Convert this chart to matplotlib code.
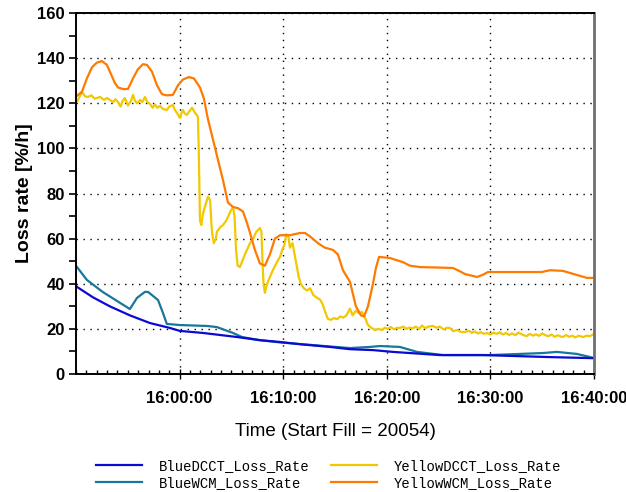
import numpy as np
import matplotlib
matplotlib.use("Agg")
import matplotlib.pyplot as plt
import matplotlib.dates as mdates
from matplotlib.ticker import MultipleLocator

# minutes after 15:50:00 and loss rates in %/h
blue_dcct_t = [0.1, 1.64, 3.28, 5.21, 7.14, 9.07, 10.04, 12.26, 13.9, 15.54, 17.76,
               19.69, 21.62, 24.52, 26.45, 28.67, 30.6, 35.14, 39.29, 45.75, 50.1]
blue_dcct = [38.6, 34, 30, 26, 22.6, 20.4, 19.1, 18.2, 17.3, 16.4, 15,
             14.2, 13.2, 12, 11, 10.6, 9.8, 8.4, 8.4, 7.5, 7]

blue_wcm_t = [0.1, 1.06, 2.61, 5.21, 5.89, 6.66, 6.95, 7.92, 8.4, 8.78, 10.04, 12.64,
              13.61, 15.15, 16.02, 17.76, 19.69, 21.62, 24.52, 26.45, 28.38, 29.34,
              31.27, 32.92, 35.42, 40.0, 45.08, 46.43, 48.36, 50.1]
blue_wcm = [47.4, 41.7, 36.3, 28.8, 33.7, 36.4, 36.4, 32.8, 27, 22.2, 21.7, 21.3,
            20.8, 18.2, 16.4, 15, 14, 13.3, 12.2, 11.5, 12, 12.4,
            12, 9.8, 8.4, 8.4, 9.3, 9.8, 8.9, 7]

yellow_dcct_t = [0.1, 0.35, 0.58, 0.9, 1.16, 1.5, 1.8, 2.32, 2.7, 3.0, 3.28, 3.6, 3.8,
                 4.05, 4.3, 4.5, 4.73, 5.02, 5.3, 5.5, 5.7, 5.89, 6.2, 6.4, 6.66, 6.9,
                 7.14, 7.4, 7.6, 7.85, 8.1, 8.4, 8.78, 9.0, 9.36, 9.55, 9.75, 10.04,
                 10.2, 10.33, 10.5, 10.71, 10.95, 11.2, 11.45, 11.7, 11.78, 11.85,
                 11.92, 11.97, 12.1, 12.26, 12.5, 12.74, 12.95, 13.05, 13.15, 13.3,
                 13.5, 13.61, 13.9, 14.19, 14.5, 14.67, 14.9, 15.15, 15.3, 15.45, 15.6,
                 15.83, 16.02, 16.3, 16.6, 16.8, 17.1, 17.4, 17.76, 17.9, 18.0, 18.1,
                 18.24, 18.45, 18.73, 19.0, 19.5, 19.7, 19.9, 20.1, 20.3, 20.5, 20.66,
                 20.9, 21.1, 21.3, 21.5, 21.7, 22.0, 22.3, 22.6, 22.9, 23.2, 23.55,
                 23.8, 24.03, 24.3, 24.6, 24.9, 25.2, 25.5, 25.8, 26.1, 26.45, 26.7,
                 27.0, 27.3, 27.61, 27.9, 28.19, 28.5, 28.86, 29.2, 29.5, 29.8, 30.1,
                 30.4, 30.7, 31.0, 31.27, 31.6, 31.9, 32.2, 32.5, 32.8, 33.1, 33.4,
                 33.7, 34.0, 34.46, 34.8, 35.1, 35.5, 35.8, 36.1, 36.4, 36.8, 37.2,
                 37.55, 37.9, 38.2, 38.5, 38.8, 39.1, 39.4, 39.67, 40.0, 40.3, 40.6,
                 40.9, 41.2, 41.5, 41.8, 42.1, 42.4, 42.7, 43.15, 43.5, 43.8, 44.1,
                 44.4, 44.7, 45.0, 45.3, 45.6, 45.9, 46.2, 46.5, 46.8, 47.0, 47.3,
                 47.6, 47.9, 48.2, 48.5, 48.94, 49.3, 49.6, 49.9, 50.1]
yellow_dcct = [120.6, 123, 125, 123, 122.8, 123.5, 122, 122.8, 121.5, 122.3, 121.5,
               120.5, 121.8, 120.6, 118.5, 121, 122.3, 119, 121, 123.7, 121, 120,
               121.5, 120.5, 122.8, 120.5, 119.7, 118, 119.5, 118, 118.8, 117.5, 117,
               118.5, 119.2, 117, 115.7, 113.5, 116, 117, 115.5, 114.8, 116.5, 118,
               116, 114.5, 114, 99, 80, 68, 66, 71, 75, 78.5, 77, 68, 62, 58, 60, 63,
               65, 66, 68, 69.6, 72, 74, 70, 55, 48, 47.4, 49.6, 53, 56, 58, 60, 63,
               64.7, 63, 50, 40, 36, 40, 43, 46, 50.5, 52, 55, 57, 62, 61, 56, 58, 53,
               48, 43, 40, 38, 37, 38, 35, 34, 33, 31, 28, 24.5, 24, 24.8, 24.3, 25.5,
               25, 26, 29, 26, 28, 27, 27.5, 25, 21.7, 20.5, 19.5, 20, 19.5, 20.5, 20,
               20.8, 19.8, 20.5, 20.4, 21, 20, 20.6, 20.2, 21, 20, 21.5, 20.3, 21,
               21.3, 20.5, 21, 19.8, 20.5, 20.4, 19, 19.5, 18.6, 18.6, 19.2, 18.3,
               18.8, 18, 18.5, 17.8, 18.2, 17.5, 18.3, 17.8, 18.5, 17.5, 18.2, 17.3,
               18, 17.2, 18.4, 17.3, 16.8, 17.8, 17, 17.6, 16.9, 18, 17.2, 16.8, 17.5,
               16.5, 17.2, 16.6, 16.4, 17.3, 16.5, 17, 16.2, 17, 16.4, 17, 16.8, 17.5,
               17.7]

yellow_wcm_t = [0.0, 0.58, 1.06, 1.55, 2.03, 2.51, 2.99, 3.38, 3.76, 4.05, 4.54, 5.02,
                5.5, 5.98, 6.47, 6.85, 7.34, 7.82, 8.3, 8.78, 9.36, 9.85, 10.33, 10.91,
                11.39, 11.97, 12.36, 12.74, 13.22, 13.71, 14.19, 14.67, 15.15, 15.64,
                16.12, 16.5, 16.8, 17.28, 17.76, 18.24, 18.73, 19.21, 19.69, 20.66,
                21.62, 22.1, 22.59, 23.36, 24.03, 24.81, 25.29, 25.77, 26.45, 27.03,
                27.51, 27.8, 28.19, 28.67, 28.96, 29.25, 30.31, 31.56, 32.24, 33.2,
                36.39, 37.07, 37.55, 38.71, 39.29, 39.77, 44.98, 45.75, 47.0, 48.36,
                49.32, 50.1]
yellow_wcm = [123, 125, 131, 136, 138, 138.7, 137, 133, 129, 127, 126.3, 126.3,
              131, 135, 137.3, 137, 134, 128, 124, 123.5, 123.7, 128, 130.5, 131.6,
              131, 127, 122, 113, 104, 95, 86, 76, 74, 73.5,
              72, 67, 62.5, 55, 49, 48, 53, 60, 61.5, 61.5,
              62.5, 62.5, 61, 58, 56, 55, 53, 46, 40.8, 30,
              26, 25.5, 30, 40, 47, 51.9, 51.4, 49.6, 48, 47.4,
              47, 45.5, 44.3, 43, 44, 45.2, 45.2, 46, 45.7, 43.9,
              42.6, 42.6]

series_names = ["BlueDCCT_Loss_Rate", "BlueWCM_Loss_Rate",
                "YellowDCCT_Loss_Rate", "YellowWCM_Loss_Rate"]
series_colors = ["#0a0ad2", "#16789a", "#f2c800", "#ff7a00"]

start = np.datetime64("2011-01-01T15:50:00")


def to_time(minutes):
    return start + (np.array(minutes) * 60).astype("timedelta64[s]")


fig = plt.figure(figsize=(6.26, 4.92), dpi=100)
ax = fig.add_axes([0.1214, 0.2398, 0.8275, 0.7338])

data = [(blue_dcct_t, blue_dcct), (blue_wcm_t, blue_wcm),
        (yellow_dcct_t, yellow_dcct), (yellow_wcm_t, yellow_wcm)]
draw_order = [1, 0, 2, 3]
lines = {}
for i in draw_order:
    t, v = data[i]
    ln, = ax.plot(to_time(t), v, color=series_colors[i], lw=1.6,
                  label=series_names[i])
    lines[i] = ln

ax.set_xlim(start, start + np.timedelta64(50, "m"))
ax.set_ylim(0, 160)
ax.xaxis.set_major_locator(mdates.MinuteLocator(byminute=[0, 10, 20, 30, 40]))
ax.xaxis.set_minor_locator(mdates.MinuteLocator())
ax.xaxis.set_major_formatter(mdates.DateFormatter("%H:%M:%S"))
ax.yaxis.set_major_locator(MultipleLocator(20))
ax.yaxis.set_minor_locator(MultipleLocator(10))

for lab in ax.get_xticklabels() + ax.get_yticklabels():
    lab.set_fontfamily("Liberation Sans")
    lab.set_fontweight("bold")
    lab.set_fontsize(12)

ax.tick_params(axis="y", which="major", direction="out", length=5, width=1.2, pad=3)
ax.tick_params(axis="y", which="minor", direction="out", length=5, width=1.2)
ax.tick_params(axis="x", which="major", direction="inout", length=7, width=1, pad=9)
ax.tick_params(axis="x", which="minor", direction="in", length=3, width=1)

ax.grid(True, which="major", color="black", linestyle=(0, (1, 4)), lw=1)

for side in ["left", "bottom", "top"]:
    ax.spines[side].set_color("black")
    ax.spines[side].set_linewidth(1.4)
ax.spines["right"].set_color("#707070")
ax.spines["right"].set_linewidth(2)

ax.set_xlabel("Time (Start Fill = 20054)", fontfamily="Liberation Sans",
              fontsize=13.5, labelpad=12)
ax.set_ylabel("Loss rate [%/h]", fontfamily="Liberation Sans", fontsize=14,
              fontweight="bold", labelpad=3)

handles = [lines[i] for i in range(4)]
fig.legend(handles, series_names, loc="upper left", bbox_to_anchor=(0.154, 0.067),
           ncol=2, frameon=False, prop=dict(family="Liberation Mono", size=10),
           handlelength=3.3, handletextpad=1.2, columnspacing=1.55,
           labelspacing=0.2, borderpad=0, borderaxespad=0)

fig.savefig("out.png", dpi=100)
